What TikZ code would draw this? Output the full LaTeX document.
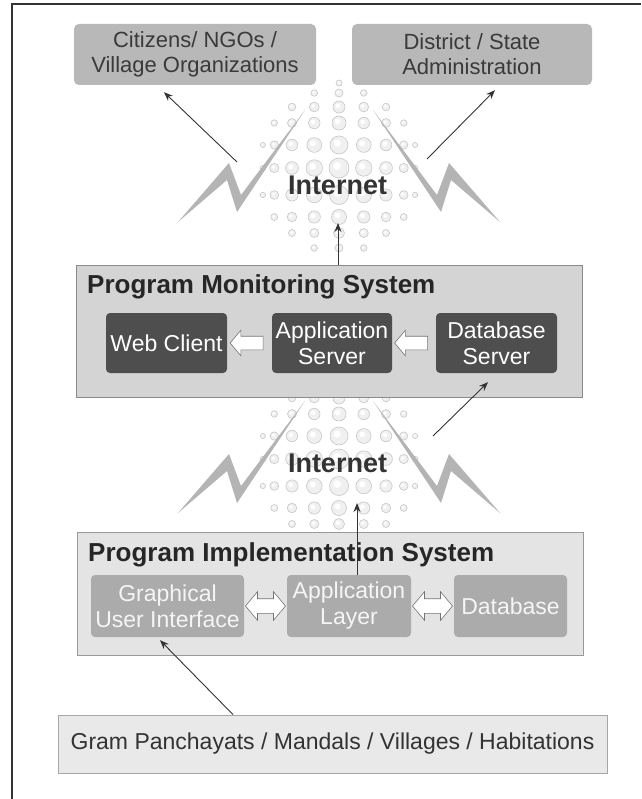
\documentclass[tikz,border=0pt]{standalone}
\usepackage{fontspec}
\setmainfont{Liberation Sans}
\usetikzlibrary{arrows.meta,calc,shapes.arrows}

\definecolor{topgray}{HTML}{B8B8B8}
\definecolor{toptext}{HTML}{3A3A3A}
\definecolor{darkbox}{HTML}{4E4E4E}
\definecolor{pmsfill}{HTML}{D4D4D4}
\definecolor{pisfill}{HTML}{E4E4E4}
\definecolor{pisbox}{HTML}{ABABAB}
\definecolor{gramfill}{HTML}{E9E9E9}
\definecolor{framec}{HTML}{8A8A8A}
\definecolor{boltc}{HTML}{B4B4B4}
\definecolor{arrowc}{HTML}{333333}

% dotted globe with two lightning bolts, centred at #1
\def\internetglobe(#1){%
  \begin{scope}[shift={(#1)}]
    \foreach \dy/\rmax/\nc in {-102/3/0,-92/4/1,-78/6/2,-62/7/3,-40/9/4,-17/10/4,10/9.5/4,32/7.5/3,48/5.5/2,63/4/1}{
      \foreach \i in {-\nc,...,\nc}{
        \pgfmathsetmacro\rr{\rmax*(1-0.18*abs(\i))}
        \filldraw[fill=black!6, draw=black!22, line width=0.6pt] ({80*sin(18*\i)},\dy) circle[radius=\rr];
        \fill[white] ({80*sin(18*\i)-0.2*\rr},{\dy-0.2*\rr}) circle[radius=0.4*\rr];
      }
    }
    \foreach \s in {1,-1}
      \fill[boltc, xscale=\s] (-161,37) -- (-110,-22) -- (-98,10) -- (-34,-75) -- (-102,27) -- (-112,-5) -- cycle;
  \end{scope}}

\begin{document}
\begin{tikzpicture}[x=1pt,y=-1pt,
  topbox/.style={fill=topgray, rounded corners=5pt, text=toptext, align=center,
    font=\fontsize{22}{25}\selectfont, minimum height=61pt, inner sep=0pt},
  system/.style={draw=framec, line width=0.8pt},
  title/.style={text=black!85, font=\bfseries\fontsize{26}{29}\selectfont, inner sep=0pt},
  darkbtn/.style={fill=darkbox, rounded corners=4pt, text=white, align=center,
    font=\fontsize{23}{26}\selectfont, minimum height=60pt, inner sep=0pt},
  lightbtn/.style={fill=pisbox, rounded corners=4pt, text=black!4, align=center,
    font=\fontsize{23}{26}\selectfont, minimum height=62pt, inner sep=0pt},
  hollowarrow/.style={single arrow, draw=black!55, fill=white, line width=0.6pt,
    minimum height=33pt, inner xsep=0pt, inner ysep=6.5pt,
    single arrow head extend=6pt, single arrow tip angle=100},
  hollowdouble/.style={double arrow, draw=black!55, fill=white, line width=0.6pt,
    minimum height=40pt, inner xsep=0pt, inner ysep=7pt,
    double arrow head extend=7pt, double arrow tip angle=100},
  inettext/.style={text=black!80, font=\bfseries\fontsize{27}{30}\selectfont},
  conn/.style={-{Stealth[length=9pt,width=7pt]}, draw=arrowc, line width=0.9pt}]

  \useasboundingbox (0,0) rectangle (641,799);
  \fill[white] (0,0) rectangle (641,799);
  \draw[line width=1.6pt, black!80] (12,799) -- (12,4) -- (641,4);

  %%%%% clouds %%%%%
  \internetglobe(339,185)
  \internetglobe(339,476)

  %%%%% top %%%%%
  \node[topbox, minimum width=242pt] (cit) at (195,54.5) {Citizens/ NGOs /\\Village Organizations};
  \node[topbox, minimum width=240pt] (dist) at (472,54.5) {District / State\\Administration};

  %%%%% monitoring %%%%%
  \node[system, fill=pmsfill, minimum width=506pt, minimum height=132pt] (pms) at (329,331) {};
  \node[title, anchor=base west] (pmstitle) at (87,293) {Program Monitoring System};
  \node[darkbtn, minimum width=121pt] (wc) at (166.5,343) {Web Client};
  \node[darkbtn, minimum width=120pt] (as) at (332,343) {Application\\Server};
  \node[darkbtn, minimum width=121pt] (dbs) at (496.5,343) {Database\\Server};
  \node[hollowarrow, shape border rotate=180] (ha1) at ($(wc.east)!.5!(as.west)$) {};
  \node[hollowarrow, shape border rotate=180] (ha2) at ($(as.east)!.5!(dbs.west)$) {};

  %%%%% implementation %%%%%
  \node[system, fill=pisfill, draw=black!40, minimum width=506pt, minimum height=123pt] (pis) at (330,593.5) {};
  \node[title, anchor=base west] (pistitle) at (88,561) {Program Implementation System};
  \node[lightbtn, minimum width=153pt] (gui) at (167.5,606) {Graphical\\User Interface};
  \node[lightbtn, minimum width=124pt] (al) at (349,606) {Application\\Layer};
  \node[lightbtn, minimum width=113pt] (db) at (510.5,606) {Database};
  \node[hollowdouble] (da1) at ($(gui.east)!.5!(al.west)$) {};
  \node[hollowdouble] (da2) at ($(al.east)!.5!(db.west)$) {};

  %%%%% bottom %%%%%
  \node[system, fill=gramfill, draw=black!35, minimum width=549pt, minimum height=58pt,
    text=black!80, font=\fontsize{23}{26}\selectfont] (gram) at (332.5,744) {Gram Panchayats / Mandals / Villages / Habitations};

  %%%%% internet labels %%%%%
  \node[inettext] (inet1) at (337.5,185) {Internet};
  \node[inettext] (inet2) at (337.5,463) {Internet};

  %%%%% arrows %%%%%
  \coordinate (cl) at (237,162);
  \coordinate (cr) at (427,159);
  \coordinate (up1) at (338,223);
  \coordinate (dr) at (433,436);
  \coordinate (up2) at (357,503);
  \draw[conn] (cl) -- ($(cit.south)+(-31,7)$);
  \draw[conn] (cr) -- ($(dist.south)+(23,5)$);
  \draw[conn] (pms.north -| up1) -- (up1);
  \draw[conn] (dr) -- ($(dbs.south)+(-8.5,9)$);
  \draw[conn] (al.north -| up2) -- (up2);
  \draw[conn] ($(gram.north)+(-99.5,0)$) -- ($(gui.south)+(-7.5,3)$);
\end{tikzpicture}
\end{document}
